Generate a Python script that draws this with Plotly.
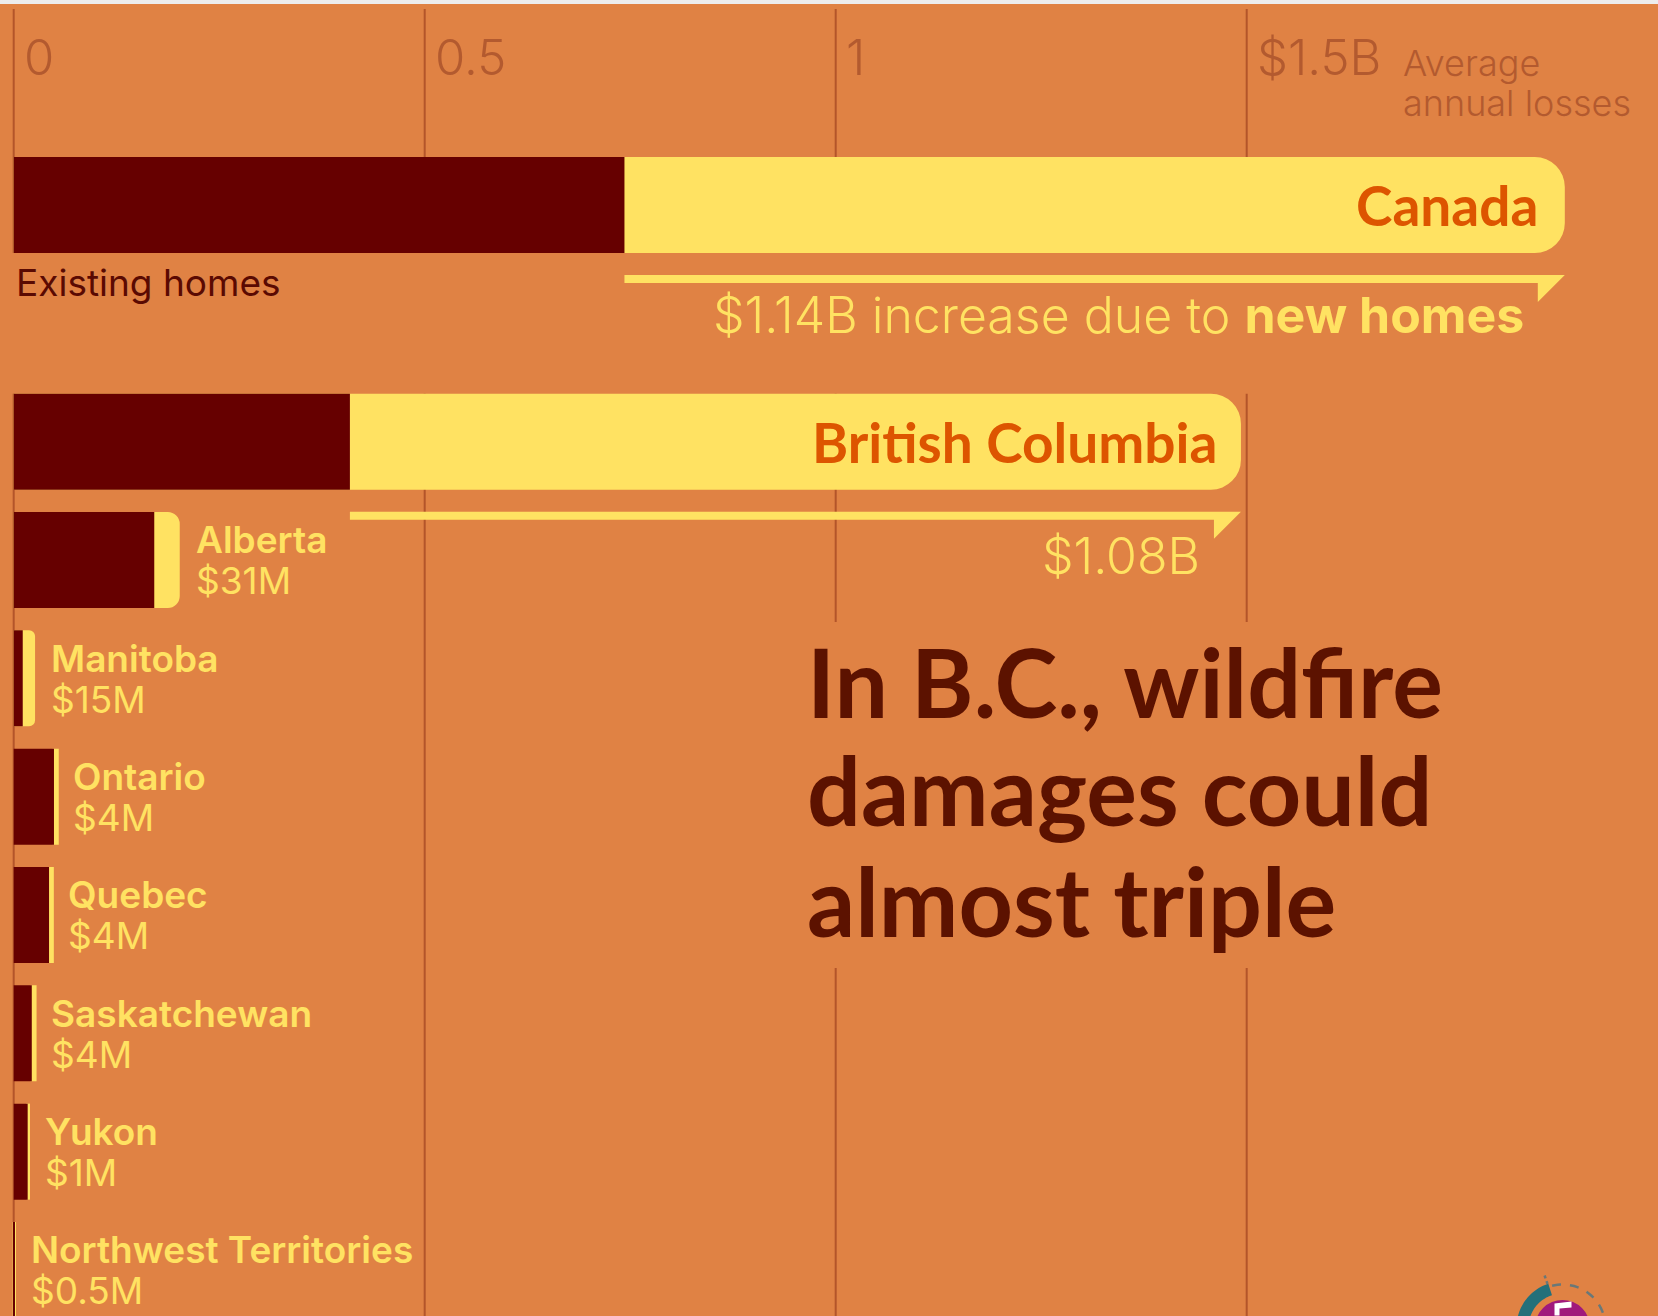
import numpy as np
import plotly.graph_objects as go

# ---------------- data ----------------
regions = ["Canada", "British Columbia", "Alberta", "Manitoba", "Ontario",
           "Quebec", "Saskatchewan", "Yukon", "Northwest Territories"]
existing_b = [0.743, 0.409, 0.171, 0.011, 0.049, 0.043, 0.022, 0.017, 0.0005]
increase_b = [1.144, 1.084, 0.031, 0.015, 0.004, 0.004, 0.004, 0.001, 0.0005]
increase_labels = ["$1.14B", "$1.08B", "$31M", "$15M", "$4M", "$4M", "$4M", "$1M", "$0.5M"]
tick_vals = [0, 0.5, 1, 1.5]
tick_text = ["0", "0.5", "1", "$1.5B"]
category_order = ["Canada", " ", "British Columbia", "Alberta", "Manitoba", "Ontario",
                  "Quebec", "Saskatchewan", "Yukon", "Northwest Territories"]

# ---------------- style / layout constants ----------------
W, H = 1658, 1316
TOP_STRIP = 4
BG = "#E08244"
DARK = "#660000"
YELLOW = "#FFE262"
BIG_LABEL = "#DD5500"
GRID = "#B3552A"
TICK = "#B35A2F"
TITLE = "#5C1200"
FONT = "Lato"
THIN = "Inter"

PX_PER_B = 822.0            # pixels per $1B
X0_PX = 13.7                # pixel of x = 0
PX_PER_SLOT = 118.33
Y_TOP = -1.6986             # data value at top of plot area
plot_h = H - TOP_STRIP
Y_BOT = Y_TOP + plot_h / PX_PER_SLOT
BAR_W = 96 / PX_PER_SLOT

x_range = [-X0_PX / PX_PER_B, (W - X0_PX) / PX_PER_B]


def ypx(px):
    """pixel (from top of page) -> y data value"""
    return Y_TOP + (px - TOP_STRIP) / PX_PER_SLOT


def xpx(px):
    return (px - X0_PX) / PX_PER_B


def ypaper(px):
    return 1 - (px - TOP_STRIP) / plot_h


idx = {c: i for i, c in enumerate(category_order)}
totals = [e + i for e, i in zip(existing_b, increase_b)]

fig = go.Figure()

# yellow "with new homes" bars: full length, rounded tip; dark existing bar drawn on top
for k, name in enumerate(regions):
    vis_px = increase_b[k] * PX_PER_B
    if vis_px >= 6:
        fig.add_trace(go.Bar(
            y=[name], x=[totals[k]], orientation="h", width=BAR_W,
            marker=dict(color=YELLOW, line=dict(width=0),
                        cornerradius=int(min(30, vis_px / 2))),
            hoverinfo="skip", showlegend=False))
    else:
        fig.add_trace(go.Bar(
            y=[name], x=[increase_b[k]], base=[existing_b[k]], orientation="h",
            width=BAR_W - 3 / PX_PER_SLOT,
            marker=dict(color=YELLOW, line=dict(width=3, color=YELLOW)),
            hoverinfo="skip", showlegend=False))

fig.add_trace(go.Bar(
    y=regions, x=existing_b, orientation="h", width=BAR_W,
    marker=dict(color=DARK, line=dict(width=0)), hoverinfo="skip", showlegend=False))

shapes = []
# gridlines (segments)
canada_bottom = idx["Canada"] + BAR_W / 2
bc_top = idx["British Columbia"] - BAR_W / 2
for v in tick_vals:
    shapes.append(dict(type="line", xref="x", yref="y", x0=v, x1=v,
                       y0=ypx(9), y1=canada_bottom, layer="below",
                       line=dict(color=GRID, width=2)))
    shapes.append(dict(type="line", xref="x", yref="y", x0=v, x1=v,
                       y0=bc_top, y1=Y_BOT, layer="below",
                       line=dict(color=GRID, width=2)))
# panel behind the headline hides gridlines
shapes.append(dict(type="rect", xref="x", yref="y",
                   x0=xpx(800), x1=xpx(1500), y0=ypx(622), y1=ypx(968),
                   fillcolor=BG, line=dict(width=0), layer="below"))

# brackets under the "new homes" part
for name in ["Canada", "British Columbia"]:
    i = regions.index(name)
    e, t = existing_b[i], totals[i]
    tl = t - 27 / PX_PER_B
    path = (f"M {e},-70 L {t},-70 L {tl},-97 L {tl},-78 L {e},-78 Z")
    shapes.append(dict(type="path", xref="x", yref="y", ysizemode="pixel",
                       yanchor=idx[name], path=path, fillcolor=YELLOW,
                       line=dict(width=0), layer="above"))

# logo (bottom right, cut off)
cx, cy = 1562.5 / W, ypaper(1327.5)


def arc(r, a0, a1, n=40):
    a = np.radians(np.linspace(a0, a1, n))
    return r * np.cos(a), r * np.sin(a)


def logo_shape(**kw):
    d = dict(xref="paper", yref="paper", xsizemode="pixel", ysizemode="pixel",
             xanchor=cx, yanchor=cy)
    d.update(kw)
    return d


xo, yo = arc(46, 108, 210)
xi, yi = arc(34, 210, 108)
pts = list(zip(np.r_[xo, xi], np.r_[yo, yi]))
teal_path = "M " + " L ".join(f"{x:.2f},{y:.2f}" for x, y in pts) + " Z"
shapes.append(logo_shape(type="path", path=teal_path, fillcolor="#24707A", line=dict(width=0)))
xd, yd = arc(43, 104, -40)
dash_path = "M " + " L ".join(f"{x:.2f},{y:.2f}" for x, y in zip(xd, yd))
shapes.append(logo_shape(type="path", path=dash_path,
                         line=dict(color="#6A7878", width=2.5, dash="dash")))
a = np.radians(109)
shapes.append(logo_shape(type="line", x0=46 * np.cos(a), y0=46 * np.sin(a),
                         x1=58 * np.cos(a), y1=58 * np.sin(a),
                         line=dict(color="#6A7878", width=2.5, dash="dot")))
shapes.append(logo_shape(type="circle", x0=-27.5, x1=27.5, y0=-27.5, y1=27.5,
                         fillcolor="#A0197C", line=dict(width=0)))
five = "M -8,24 L 9,26 L 9,20 L -3,19 L -3,12 L -8,12 Z"
shapes.append(logo_shape(type="path", path=five, fillcolor="white", line=dict(width=0)))

ann = []
# axis labels
for v, t in zip(tick_vals, tick_text):
    ann.append(dict(x=v, y=ypaper(58), xref="x", yref="paper", text=t,
                    xanchor="left", yanchor="middle", xshift=8, showarrow=False,
                    font=dict(family=THIN, size=49, color=TICK, weight=300)))
for txt, py in [("Average", 63), ("annual losses", 103)]:
    ann.append(dict(x=1401 / W, y=ypaper(py), xref="paper", yref="paper", text=txt,
                    xanchor="left", yanchor="middle", showarrow=False,
                    font=dict(family=THIN, size=36, color=TICK, weight=300)))

ann.append(dict(x=0, y=idx["Canada"], xref="x", yref="y", text="Existing homes",
                xanchor="left", yanchor="middle", yshift=-77, xshift=0, showarrow=False,
                font=dict(family=THIN, size=37, color="#5A0A02", weight=400)))

for k, name in enumerate(regions):
    t = totals[k]
    if name in ("Canada", "British Columbia"):
        ann.append(dict(x=t, y=idx[name], xref="x", yref="y", text=f"<b>{name}</b>",
                        xanchor="right", yanchor="middle",
                        xshift=-25 if name == "Canada" else -22, showarrow=False,
                        font=dict(family=FONT, size=55, color=BIG_LABEL)))
        sub = (f"{increase_labels[k]} increase due to <b>new homes</b>"
               if name == "Canada" else increase_labels[k])
        ann.append(dict(x=t, y=idx[name], xref="x", yref="y", text=sub,
                        xanchor="right", yanchor="middle", xshift=-39,
                        yshift=-110 if name == "Canada" else -114, showarrow=False,
                        font=dict(family=THIN, size=50, color=YELLOW, weight=300)))
    else:
        ann.append(dict(x=t, y=idx[name], xref="x", yref="y", text=name,
                        xanchor="left", yanchor="middle", xshift=14, yshift=20,
                        showarrow=False,
                        font=dict(family=THIN, size=37, color=YELLOW, weight=600)))
        ann.append(dict(x=t, y=idx[name], xref="x", yref="y", text=increase_labels[k],
                        xanchor="left", yanchor="middle", xshift=14, yshift=-21,
                        showarrow=False,
                        font=dict(family=THIN, size=37, color=YELLOW, weight=400)))

# headline
for txt, py in [("In B.C., wildfire", 681), ("damages could", 789), ("almost triple", 900)]:
    ann.append(dict(x=805 / W, y=ypaper(py), xref="paper", yref="paper", text=f"<b>{txt}</b>",
                    xanchor="left", yanchor="middle", showarrow=False,
                    font=dict(family=FONT, size=95, color=TITLE)))

fig.update_layout(
    width=W, height=H,
    margin=dict(l=0, r=0, t=TOP_STRIP, b=0, pad=0),
    paper_bgcolor="#EDEDED", plot_bgcolor=BG,
    barmode="overlay",
    shapes=shapes, annotations=ann,
    xaxis=dict(range=x_range, showgrid=False, zeroline=False, showticklabels=False,
               fixedrange=True, showline=False),
    yaxis=dict(type="category", categoryorder="array", categoryarray=category_order,
               range=[Y_BOT, Y_TOP], showgrid=False, zeroline=False,
               showticklabels=False, fixedrange=True, showline=False),
    font=dict(family=FONT),
)

fig.write_html("out.html")
